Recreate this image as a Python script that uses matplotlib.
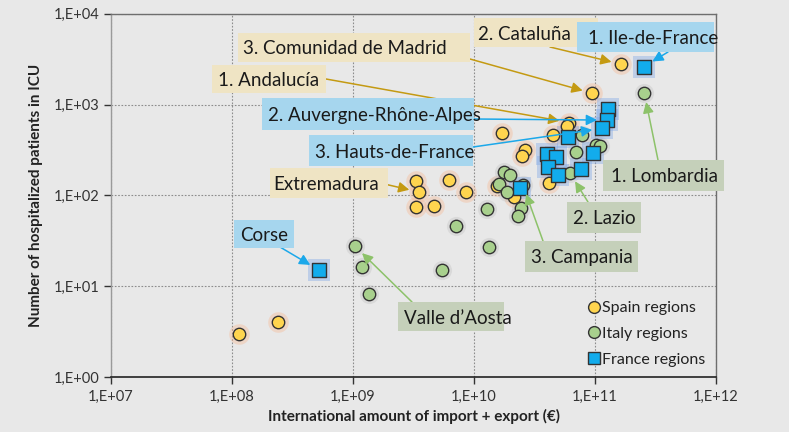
import numpy as np
import matplotlib
matplotlib.use("Agg")
import matplotlib.pyplot as plt
from matplotlib.patches import Rectangle
from matplotlib.ticker import FixedLocator, FuncFormatter, NullLocator
from matplotlib.lines import Line2D

plt.rcParams['font.family'] = ['Lato', 'DejaVu Sans']

# ---------------- data ----------------
spain_x = [1.15e8, 2.4e8, 3.3e9, 3.5e9, 3.33e9, 4.7e9, 6.2e9, 8.6e9, 1.64e11, 9.45e10,
           6.1e10, 5.9e10, 4.5e10, 1.69e10, 2.66e10, 2.5e10, 1.56e10, 2.14e10, 4.17e10]
spain_y = [3, 4, 145, 109, 74, 76, 146, 110, 2780, 1333,
           634, 583, 465, 485, 318, 273, 126, 95, 137]

italy_x = [2.55e11, 7.85e10, 1.02e11, 1.11e11, 6.9e10, 6.2e10, 1.78e10, 1.98e10, 1.62e10, 1.86e10,
           2.53e10, 2.45e10, 2.32e10, 1.27e10, 1.33e10, 7.05e9, 1.04e9, 1.18e9, 1.36e9, 5.4e9]
italy_y = [1355, 457, 361, 349, 297, 176, 181, 169, 135, 109,
           131, 72.8, 59.9, 71.5, 27.1, 45.6, 27.5, 16.2, 8.3, 15.2]

france_x = [2.54e11, 1.27e11, 1.25e11, 1.14e11, 6.0e10, 9.6e10, 4.0e10, 4.76e10, 4.11e10,
            4.9e10, 7.7e10, 2.4e10, 5.2e8]
france_y = [2620, 889, 674, 545, 438, 292, 285, 262, 205,
            166, 195, 120, 15.1]

x_ticks = [1e7, 1e8, 1e9, 1e10, 1e11, 1e12]
y_ticks = [1e0, 1e1, 1e2, 1e3, 1e4]

series_names = ["Spain regions", "Italy regions", "France regions"]

# labels: (text, series, index)
labels = [
    ("3. Comunidad de Madrid", "spain", 9),
    ("2. Cataluña", "spain", 8),
    ("1. Ile-de-France", "france", 0),
    ("1. Andalucía", "spain", 10),
    ("2. Auvergne-Rhône-Alpes", "france", 2),
    ("3. Hauts-de-France", "france", 3),
    ("Extremadura", "spain", 3),
    ("Corse", "france", 12),
    ("Valle d\u2019Aosta", "italy", 16),
    ("1. Lombardia", "italy", 0),
    ("2. Lazio", "italy", 5),
    ("3. Campania", "italy", 10),
]

# ---------------- layout / style ----------------
W, H = 789, 432
bg = '#E8E8E8'
fig = plt.figure(figsize=(W / 100, H / 100), dpi=100, facecolor=bg)
ax = fig.add_axes([111 / W, 1 - 377 / H, (716 - 111) / W, (377 - 13.7) / H])
ax.set_facecolor(bg)
ax.set_xscale('log')
ax.set_yscale('log')
ax.set_xlim(1e7, 1e12)
ax.set_ylim(1e0, 1e4)

ax.xaxis.set_major_locator(FixedLocator(x_ticks))
ax.yaxis.set_major_locator(FixedLocator(y_ticks))
ax.xaxis.set_minor_locator(NullLocator())
ax.yaxis.set_minor_locator(NullLocator())
fmt = FuncFormatter(lambda v, p: "1,E+%02d" % int(round(np.log10(v))))
ax.xaxis.set_major_formatter(fmt)
ax.yaxis.set_major_formatter(fmt)
ax.tick_params(axis='both', labelsize=10.5, colors='#333333', length=5, width=1, pad=3)
ax.tick_params(axis='x', pad=4)

ax.grid(True, which='major', linestyle=(0, (1.5, 1.5)), color='#8C8C8C', linewidth=0.8)
ax.set_axisbelow(True)
ax.spines['left'].set_color('#9A9A9A')
ax.spines['left'].set_linewidth(1.0)
ax.spines['bottom'].set_color('#222222')
ax.spines['bottom'].set_linewidth(1.2)
for s in ['top', 'right']:
    ax.spines[s].set_color('#6E6E6E')
    ax.spines[s].set_linewidth(1.0)

ax.set_xlabel("International amount of import + export (\u20ac)", fontsize=11, fontweight='bold',
              color='#222222', labelpad=4)
ax.set_ylabel("Number of hospitalized patients in ICU", fontsize=11, fontweight='bold',
              color='#222222', labelpad=8)

# glow + markers
yellow, green, blue = '#FFD54F', '#A8D08D', '#12ACEC'
ax.scatter(spain_x, spain_y, s=220, marker='o', color='#F6B995', alpha=0.4, linewidths=0, zorder=2)
ax.scatter(italy_x, italy_y, s=190, marker='o', color='#B8B8B8', alpha=0.3, linewidths=0, zorder=2)
ax.scatter(france_x, france_y, s=240, marker='s', color='#7FA7E6', alpha=0.4, linewidths=0, zorder=2)
ax.scatter(spain_x, spain_y, s=80, marker='o', color=yellow, edgecolors='#333333', linewidths=1.0, zorder=3)
ax.scatter(italy_x, italy_y, s=80, marker='o', color=green, edgecolors='#333333', linewidths=1.0, zorder=3)
ax.scatter(france_x, france_y, s=95, marker='s', color=blue, edgecolors='#333333', linewidths=1.0, zorder=4)

# legend
handles = [
    Line2D([], [], marker='o', linestyle='', markersize=8.5, markerfacecolor=yellow, markeredgecolor='#333333'),
    Line2D([], [], marker='o', linestyle='', markersize=8.5, markerfacecolor=green, markeredgecolor='#333333'),
    Line2D([], [], marker='s', linestyle='', markersize=8.5, markerfacecolor=blue, markeredgecolor='#333333'),
]
ax.legend(handles, series_names, loc='lower right', bbox_to_anchor=(1.0, 0.0), frameon=False,
          fontsize=11.5, handletextpad=0.1, labelspacing=0.72, borderaxespad=0.25, handlelength=0.8,
          labelcolor='#222222')

# annotation boxes (image pixel layout): box x0,y0,x1,y1 ; text-left x ; arrow tail
tan_box, blue_box, green_box = '#EFE4C4', '#A6D6EE', '#C5D0BA'
tan_arr, blue_arr, green_arr = '#C49A12', '#1BA8EA', '#8DC26A'
layout = [
    ((238, 33, 470, 62), 243, (470, 59), tan_box, tan_arr),
    ((474, 18, 598, 47), 478, (550, 47), tan_box, tan_arr),
    ((577, 22, 714, 52), 588, (668, 52), blue_box, blue_arr),
    ((212, 65, 326, 93), 218, (326, 79), tan_box, tan_arr),
    ((262, 98, 474, 130), 268, (474, 119), blue_box, blue_arr),
    ((309, 135, 473, 166), 315, (473, 147), blue_box, blue_arr),
    ((270, 168, 388, 198), 273, (380, 183), tan_box, tan_arr),
    ((234, 220, 294, 248), 240, (280, 247), blue_box, blue_arr),
    ((398, 302, 504, 331), 404, (412, 302), green_box, green_arr),
    ((603, 160, 724, 191), 611, (658, 160), green_box, green_arr),
    ((567, 202, 641, 233), 573, (588, 202), green_box, green_arr),
    ((525, 241, 638, 272), 531, (543, 241), green_box, green_arr),
]
series = {"spain": (spain_x, spain_y), "italy": (italy_x, italy_y), "france": (france_x, france_y)}

for (txt, ser, idx), (box, tx, tail, bcol, acol) in zip(labels, layout):
    x0, y0, x1, y1 = box
    fig.add_artist(Rectangle((x0 / W, 1 - y1 / H), (x1 - x0) / W, (y1 - y0) / H,
                             transform=fig.transFigure, facecolor=bcol, edgecolor='none', zorder=5))
    fig.text(tx / W, 1 - (y0 + y1) / 2 / H, txt, fontsize=13.5, color='#1A1A1A',
             ha='left', va='center_baseline', zorder=6)
    px, py = series[ser][0][idx], series[ser][1][idx]
    ax.annotate('', xy=(px, py), xycoords='data',
                xytext=(tail[0], H - tail[1]), textcoords='figure pixels',
                arrowprops=dict(arrowstyle='-|>', color=acol, lw=1.1, mutation_scale=16,
                                shrinkA=0, shrinkB=7),
                zorder=6, annotation_clip=False)

fig.savefig("out.png", dpi=100, facecolor=bg)
